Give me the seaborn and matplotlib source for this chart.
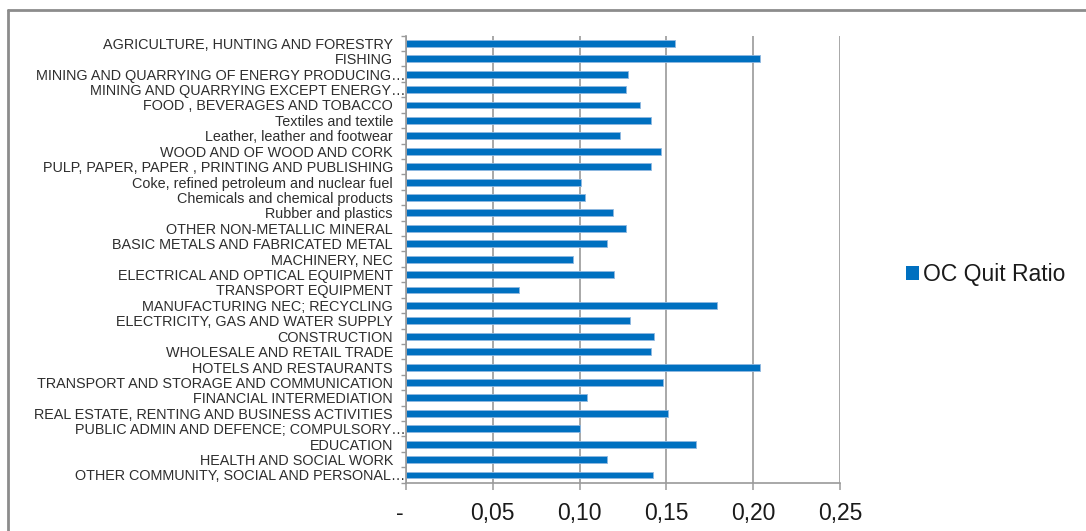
import matplotlib
matplotlib.use("Agg")
import numpy as np
import pandas as pd
import matplotlib.pyplot as plt
import seaborn as sns
from matplotlib.lines import Line2D
from matplotlib.patches import Patch
from matplotlib.transforms import ScaledTranslation

# Quit ratio by sector
sectors = [
    "AGRICULTURE, HUNTING AND FORESTRY",
    "FISHING",
    "MINING AND QUARRYING OF ENERGY PRODUCING\u2026",
    "MINING AND QUARRYING EXCEPT ENERGY\u2026",
    "FOOD , BEVERAGES AND TOBACCO",
    "Textiles and textile",
    "Leather, leather and footwear",
    "WOOD AND OF WOOD AND CORK",
    "PULP, PAPER, PAPER , PRINTING AND PUBLISHING",
    "Coke, refined petroleum and nuclear fuel",
    "Chemicals and chemical products",
    "Rubber and plastics",
    "OTHER NON-METALLIC MINERAL",
    "BASIC METALS AND FABRICATED METAL",
    "MACHINERY, NEC",
    "ELECTRICAL AND OPTICAL EQUIPMENT",
    "TRANSPORT EQUIPMENT",
    "MANUFACTURING NEC; RECYCLING",
    "ELECTRICITY, GAS AND WATER SUPPLY",
    "CONSTRUCTION",
    "WHOLESALE AND RETAIL TRADE",
    "HOTELS AND RESTAURANTS",
    "TRANSPORT AND STORAGE AND COMMUNICATION",
    "FINANCIAL INTERMEDIATION",
    "REAL ESTATE, RENTING AND BUSINESS ACTIVITIES",
    "PUBLIC ADMIN AND DEFENCE; COMPULSORY\u2026",
    "EDUCATION",
    "HEALTH AND SOCIAL WORK",
    "OTHER COMMUNITY, SOCIAL AND PERSONAL\u2026",
]
quit_ratio = [
    0.155, 0.204, 0.128, 0.127, 0.135, 0.141, 0.123, 0.147, 0.141, 0.101,
    0.103, 0.119, 0.127, 0.116, 0.096, 0.120, 0.065, 0.179, 0.129, 0.143,
    0.141, 0.204, 0.148, 0.104, 0.151, 0.100, 0.167, 0.116, 0.142,
]
series_name = "OC Quit Ratio"
x_ticks = [0.0, 0.05, 0.10, 0.15, 0.20, 0.25]
x_tick_labels = ["-  ", "0,05", "0,10", "0,15", "0,20", "0,25"]

BAR = "#0070C0"
GRID = "#9a9a9a"

sns.set_theme(style="white")
plt.rcParams["font.family"] = ["Liberation Sans", "DejaVu Sans"]

W, H = 1086, 531
fig = plt.figure(figsize=(W / 100, H / 100), dpi=100)
ax = fig.add_axes([406 / W, 1 - 482.7 / H, (840 - 406) / W, (482.7 - 35.6) / H])

df = pd.DataFrame({"sector": sectors, "ratio": quit_ratio})
sns.barplot(data=df, x="ratio", y="sector", orient="h", color=BAR,
            saturation=1, width=0.45, edgecolor="#8fb8e0", linewidth=0.6, ax=ax)

ax.set_xlim(0, 0.25)
ax.set_ylim(len(sectors) - 0.5, -0.5)
ax.set_xlabel("")
ax.set_ylabel("")

ax.set_xticks(x_ticks)
ax.set_xticklabels(x_tick_labels)
ax.set_yticks(np.arange(len(sectors)))
ax.set_yticklabels(sectors)
ax.set_yticks(np.arange(-0.5, len(sectors), 1.0), minor=True)

ax.xaxis.grid(True, color=GRID, lw=1.2)
ax.yaxis.grid(False)
ax.set_axisbelow(True)

for side in ("top", "right"):
    ax.spines[side].set_visible(False)
for side in ("left", "bottom"):
    ax.spines[side].set_color(GRID)
    ax.spines[side].set_linewidth(1.2)

ax.tick_params(axis="x", which="major", bottom=True, length=5, width=1.1,
               color=GRID, direction="out", labelsize=16.5, pad=9,
               labelcolor="#1a1a1a")
ax.tick_params(axis="y", which="major", left=True, length=0, pad=9.4,
               labelsize=10.4, labelcolor="#2e2e2e")
ax.tick_params(axis="y", which="minor", left=True, length=3.6, width=1.0,
               color=GRID, direction="out")

# truncated names keep their ellipsis running up to the axis
for lab in ax.get_yticklabels():
    if lab.get_text().endswith("\u2026"):
        lab.set_transform(lab.get_transform() + ScaledTranslation(0.125, 0, fig.dpi_scale_trans))

handle = Patch(facecolor=BAR, edgecolor="none")
fig.legend([handle], [series_name], loc="center left",
           bbox_to_anchor=(906 / W, 1 - 275 / H), frameon=False,
           fontsize=16.5, handlelength=0.56, handleheight=0.56,
           handletextpad=0.2, borderpad=0, borderaxespad=0,
           labelcolor="#1a1a1a")

# chart area frame
fig.add_artist(Line2D([8 / W, 1], [1 - 10 / H] * 2, transform=fig.transFigure,
                      color="#8c8c8c", lw=2))
fig.add_artist(Line2D([8 / W] * 2, [0, 1 - 10 / H], transform=fig.transFigure,
                      color="#8c8c8c", lw=2))

fig.savefig("out.png", dpi=100)
